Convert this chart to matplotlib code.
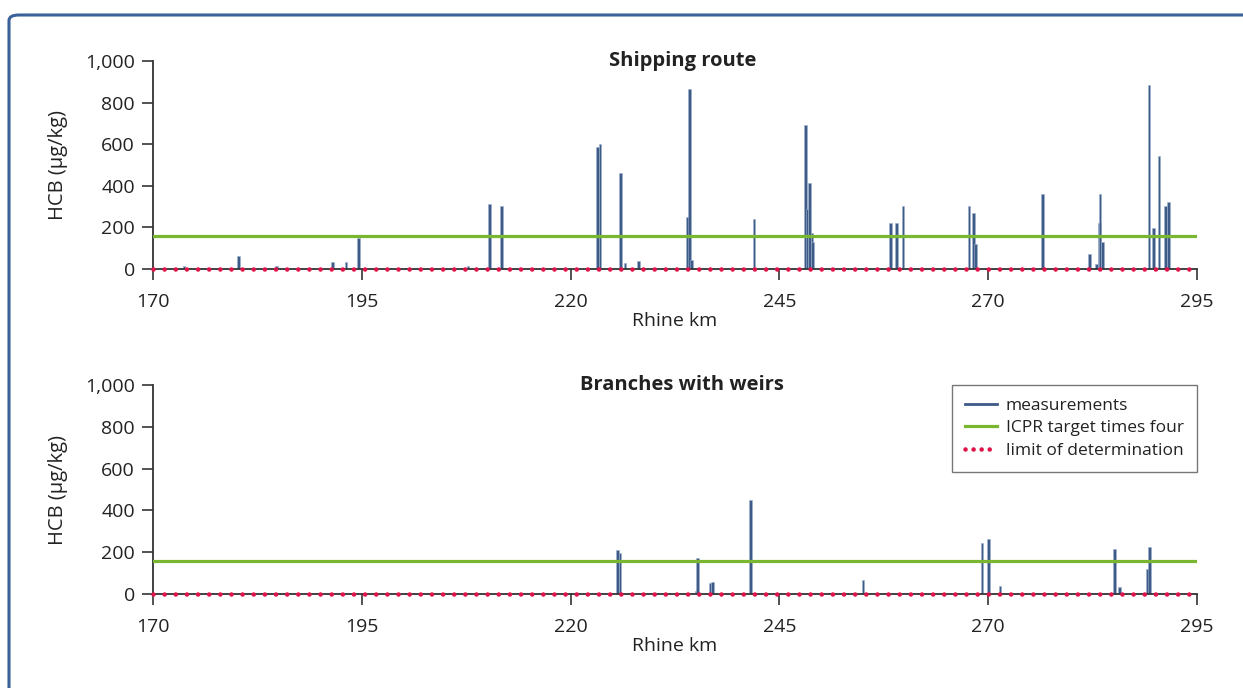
import numpy as np
import matplotlib.pyplot as plt
from matplotlib.lines import Line2D
from matplotlib.patches import FancyBboxPatch
from matplotlib.ticker import FuncFormatter

plt.rcParams['font.family'] = ['Open Sans', 'DejaVu Sans']

# HCB in sediment along the Rhine (µg/kg)
ship_km = [173.7, 180.2, 184.8, 191.5, 193.1, 194.6, 207.7, 210.3, 211.75,
           223.2, 223.5, 225.95, 226.5, 228.1, 234.0, 234.2, 234.5, 241.95,
           248.15, 248.3, 248.6, 248.9, 249.0, 258.3, 259.0, 259.8, 267.7,
           268.2, 268.5, 276.5, 282.1, 283.0, 283.3, 283.4, 283.7, 289.25,
           289.8, 290.45, 291.25, 291.6]
ship_hcb = [14, 64, 14, 35, 34, 150, 14, 311, 303,
            585, 602, 461, 29, 38, 250, 865, 42, 239,
            694, 290, 412, 175, 130, 220, 220, 301, 301,
            271, 119, 361, 71, 25, 220, 361, 130, 885,
            199, 543, 301, 321]

weir_km = [225.6, 225.9, 235.1, 235.2, 236.7, 237.0, 241.5, 255.0,
           269.25, 270.0, 271.4, 285.1, 285.7, 289.1, 289.3]
weir_hcb = [209, 198, 15, 172, 53, 57, 448, 67,
            243, 262, 38, 214, 35, 118, 226]

target = 160   # ICPR target x4
lod = 2        # limit of determination

xticks = [170, 195, 220, 245, 270, 295]
yticks = [0, 200, 400, 600, 800, 1000]

c_bar = '#3e5a87'
c_green = '#7ab730'
c_red = '#e0134a'
c_text = '#222222'

fig = plt.figure(figsize=(12.43, 6.88), dpi=100)

# rounded blue frame, open to the right and bottom
frame = FancyBboxPatch((9 / 1243, -0.1), 1.1, 1 - 15 / 688 + 0.1,
                       boxstyle='round,pad=0,rounding_size=0.008',
                       transform=fig.transFigure, fill=False,
                       edgecolor='#3a6199', linewidth=2.2)
fig.patches.append(frame)

ax1 = fig.add_axes([0.1231, 0.609, 0.8399, 0.3023])
ax2 = fig.add_axes([0.1231, 0.1366, 0.8399, 0.3038])


def draw(ax, km, hcb, title):
    ax.bar(km, hcb, width=0.32, color=c_bar, edgecolor='#9fb3cf',
           linewidth=0.4, zorder=2)
    ax.axhline(target, color=c_green, lw=2.3, zorder=3)
    ax.plot([170, 295], [lod, lod], color=c_red, lw=3.3,
            linestyle=(0, (0.01, 2.42)), dash_capstyle='round',
            zorder=5, clip_on=False)
    ax.set_xlim(170, 295)
    ax.set_ylim(0, 1000)
    ax.set_xticks(xticks)
    ax.set_yticks(yticks)
    ax.yaxis.set_major_formatter(FuncFormatter(lambda v, p: f'{int(v):,}'))
    for s in ['top', 'right']:
        ax.spines[s].set_visible(False)
    for s in ['left', 'bottom']:
        ax.spines[s].set_color('#333333')
        ax.spines[s].set_linewidth(1.3)
    ax.tick_params(axis='both', direction='out', length=8, width=1.3,
                   color='#444444', labelsize=14, labelcolor=c_text)
    ax.tick_params(axis='x', pad=9)
    ax.tick_params(axis='y', pad=5)
    ax.patch.set_visible(False)
    ax.set_xlabel('Rhine km', fontsize=14, color=c_text, labelpad=1)
    ax.set_ylabel('HCB (µg/kg)', fontsize=14.5, color=c_text, labelpad=12)
    ax.text(0.507, 1.0, title, transform=ax.transAxes, ha='center',
            va='center', fontsize=14.5, fontweight='bold', color=c_text)


draw(ax1, ship_km, ship_hcb, 'Shipping route')
draw(ax2, weir_km, weir_hcb, 'Branches with weirs')

handles = [Line2D([], [], color=c_bar, lw=2),
           Line2D([], [], color=c_green, lw=2.3),
           Line2D([], [], color=c_red, lw=3.3, linestyle=(0, (0.01, 1.75)),
                  dash_capstyle='round')]
leg = ax2.legend(handles, ['measurements', 'ICPR target times four',
                           'limit of determination'],
                 loc='upper right', bbox_to_anchor=(1.0, 1.0), fontsize=12.5,
                 frameon=True, fancybox=False, handlelength=1.85,
                 handletextpad=0.5, borderpad=0.75, labelspacing=0.35,
                 borderaxespad=0)
leg.get_frame().set_edgecolor('#555555')
leg.get_frame().set_linewidth(1.0)
for t in leg.get_texts():
    t.set_color(c_text)

fig.savefig('out.png', dpi=100)
